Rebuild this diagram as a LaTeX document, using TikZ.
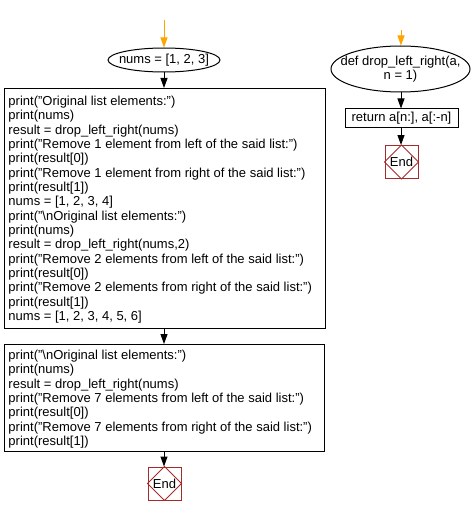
\documentclass[tikz,border=0pt]{standalone}
\usepackage{fontspec}
\setmainfont{Liberation Sans}
\usetikzlibrary{shapes.geometric,arrows.meta}
\definecolor{endred}{RGB}{165,42,42}
\definecolor{startorange}{RGB}{255,165,0}
\tikzset{
  base/.style={font=\fontsize{13}{14.33}\selectfont, line width=1pt},
  oval/.style={base, draw, ellipse, inner sep=0pt},
  codebox/.style={base, draw, rectangle, inner sep=0pt, anchor=north west},
  codetext/.style={base, anchor=north west, align=left, inner sep=0pt},
  endbox/.style={base, draw=endred, rectangle, minimum size=33pt, inner sep=0pt},
  flow/.style={line width=1pt, -{Triangle[width=7pt,length=10pt]}},
  startflow/.style={flow, draw=startorange, -{Triangle[width=7pt,length=10pt,fill=startorange]}},
}
\begin{document}
\begin{tikzpicture}[x=1pt,y=-1pt]
\useasboundingbox (0,0) rectangle (474,516);
% left column
\coordinate (s1) at (164,20);
\node[oval, minimum width=112pt, minimum height=24pt] (n1) at (164,60) {};
\node[base, inner sep=0pt] (n1t) at (n1.center) {nums = [1, 2, 3]};
\node[codebox, minimum width=321pt, minimum height=240pt] (b1) at (4,88) {};
\node[codetext] (t1) at (8,95.5) {%
print("Original list elements:")\\
print(nums)\\
result = drop\_left\_right(nums)\\
print("Remove 1 element from left of the said list:")\\
print(result[0])\\
print("Remove 1 element from right of the said list:")\\
print(result[1])\\
nums = [1, 2, 3, 4]\\
print("\textbackslash nOriginal list elements:")\\
print(nums)\\
result = drop\_left\_right(nums,2)\\
print("Remove 2 elements from left of the said list:")\\
print(result[0])\\
print("Remove 2 elements from right of the said list:")\\
print(result[1])\\
nums = [1, 2, 3, 4, 5, 6]};
\node[codebox, minimum width=320pt, minimum height=107pt] (b2) at (4,344) {};
\node[codetext] (t2) at (8,349.5) {%
print("\textbackslash nOriginal list elements:")\\
print(nums)\\
result = drop\_left\_right(nums)\\
print("Remove 7 elements from left of the said list:")\\
print(result[0])\\
print("Remove 7 elements from right of the said list:")\\
print(result[1])};
\node[endbox] (e1) at (164.5,483.5) {End};
\draw[endred, line width=0.8pt] (e1.north) -- (e1.east) -- (e1.south) -- (e1.west) -- cycle;
\draw[startflow] (s1) -- (n1.north);
\draw[flow] (n1.south) -- (n1.south |- b1.north);
\draw[flow] (n1.south |- b1.south) -- (n1.south |- b2.north);
\draw[flow] (n1.south |- b2.south) -- (e1.north -| n1.south);
% right column
\coordinate (s2) at (401,30);
\node[oval, minimum width=139pt, minimum height=46pt] (n2) at (400.5,69) {};
\node[base, inner sep=0pt, align=center] (n2t) at (n2.center) {def drop\_left\_right(a,\\ n = 1)};
\node[base, draw, rectangle, minimum width=113pt, minimum height=18pt, inner sep=0pt] (r2) at (401.5,118) {return a[n:], a[:-n]};
\node[endbox] (e2) at (401.5,162) {End};
\draw[endred, line width=0.8pt] (e2.north) -- (e2.east) -- (e2.south) -- (e2.west) -- cycle;
\draw[startflow] (s2) -- (s2 |- n2.north);
\draw[flow] (s2 |- n2.south) -- (s2 |- r2.north);
\draw[flow] (s2 |- r2.south) -- (s2 |- e2.north);
\end{tikzpicture}
\end{document}
